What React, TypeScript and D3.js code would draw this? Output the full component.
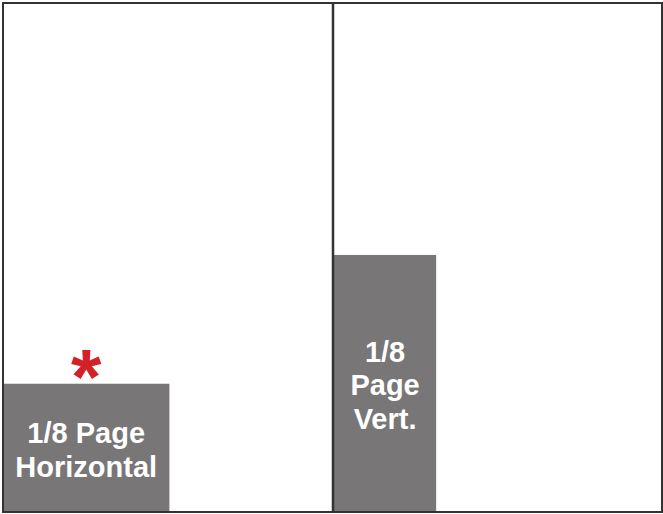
import React from "react";
import * as d3 from "d3";

// two facing pages, sizes in page fractions
const pages = ["left", "right"];
const adLabels = [["1/8 Page", "Horizontal"], ["1/8", "Page", "Vert."]];
const adPage = [0, 1];
const adWidth = [0.505, 0.31];
const adHeight = [0.252, 0.505];
const starPage = 0;

const W = 663;
const H = 514;

const App = () => {
  const x = d3.scaleLinear().domain([0, pages.length]).range([3, 662]);
  const y = d3.scaleLinear().domain([0, 1]).range([512, 3]);

  const ads = adLabels.map((lines, i) => {
    const gap = adPage[i] > 0 ? 1.5 : 0;
    return {
      lines,
      x0: x(adPage[i]) + gap,
      x1: x(adPage[i] + adWidth[i]) + gap,
      y0: y(adHeight[i]),
      y1: y(0)
    };
  });

  const lineH = 33.5;
  const font = "'Liberation Sans', Arial, Helvetica, sans-serif";

  return (
    <svg width={W} height={H} style={{ position: "absolute", left: 0, top: 0 }}>
      <rect x={0} y={0} width={W} height={H} fill="#fff" />
      {ads.map((a, i) => {
        const cx = (a.x0 + a.x1) / 2;
        const cy = (a.y0 + a.y1) / 2;
        const n = a.lines.length;
        return (
          <g key={i}>
            <rect x={a.x0} y={a.y0} width={a.x1 - a.x0} height={a.y1 - a.y0} fill="#787677" />
            {a.lines.map((t, j) => (
              <text
                key={j}
                x={cx}
                y={cy + (j - (n - 1) / 2) * lineH + 12}
                textAnchor="middle"
                fill="#fff"
                fontFamily={font}
                fontWeight="bold"
                fontSize={29}
              >
                {t}
              </text>
            ))}
          </g>
        );
      })}
      <text
        x={(ads[starPage].x0 + ads[starPage].x1) / 2}
        y={ads[starPage].y0 + 20}
        textAnchor="middle"
        fill="#d42027"
        fontFamily={font}
        fontWeight="bold"
        fontSize={78}
      >
        *
      </text>
      {/* page frame and spine */}
      <rect x={x(0)} y={y(1)} width={x(pages.length) - x(0)} height={y(0) - y(1)} fill="none" stroke="#333" strokeWidth={2} />
      {pages.slice(1).map((p, i) => (
        <line key={p} x1={x(i + 1) + 0.5} x2={x(i + 1) + 0.5} y1={y(1)} y2={y(0)} stroke="#333" strokeWidth={2.5} />
      ))}
    </svg>
  );
};

export default App;
